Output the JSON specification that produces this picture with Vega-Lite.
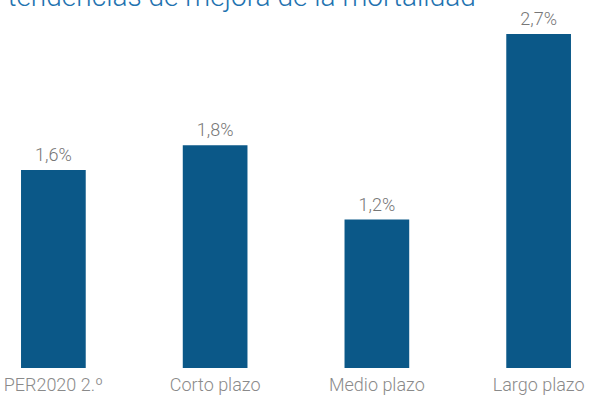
{
  "$schema": "https://vega.github.io/schema/vega-lite/v6.json",
  "width": 592,
  "height": 362,
  "autosize": "none",
  "padding": {"top": 6, "left": 0, "right": 0, "bottom": 30},
  "background": "white",
  "config": {
    "view": {"stroke": null},
    "locale": {"number": {"decimal": ",", "thousands": ".", "grouping": [3], "currency": ["", " €"]}}
  },
  "data": {
    "values": [
      {"categoria": "PER2020 2.º", "tasa": 0.016},
      {"categoria": "Corto plazo", "tasa": 0.018},
      {"categoria": "Medio plazo", "tasa": 0.012},
      {"categoria": "Largo plazo", "tasa": 0.027}
    ]
  },
  "encoding": {
    "x": {
      "field": "categoria",
      "type": "nominal",
      "sort": null,
      "scale": {"paddingInner": 0.6, "paddingOuter": 0.13},
      "axis": {
        "title": null,
        "labelAngle": 0,
        "domain": false,
        "ticks": false,
        "labelPadding": 8,
        "labelFont": "Roboto",
        "labelFontSize": 18,
        "labelFontWeight": 300,
        "labelColor": "#8a8a8a"
      }
    },
    "y": {
      "field": "tasa",
      "type": "quantitative",
      "scale": {"domain": [0, 0.02926]},
      "axis": null
    }
  },
  "layer": [
    {"mark": {"type": "bar", "color": "#0b5888"}},
    {
      "mark": {"type": "text", "baseline": "bottom", "dy": -5, "font": "Roboto", "fontSize": 18, "fontWeight": 300, "color": "#777777"},
      "encoding": {"text": {"field": "tasa", "type": "quantitative", "format": ".1%"}}
    },
    {
      "data": {"values": [{"titulo": "tendencias de mejora de la mortalidad", "categoria": "PER2020 2.º", "tasa": 0.02926}]},
      "mark": {"type": "text", "align": "left", "baseline": "alphabetic", "dx": -46, "font": "Roboto", "fontSize": 28, "fontWeight": 300, "color": "#1f73b0"},
      "encoding": {"text": {"field": "titulo", "type": "nominal"}}
    }
  ]
}
